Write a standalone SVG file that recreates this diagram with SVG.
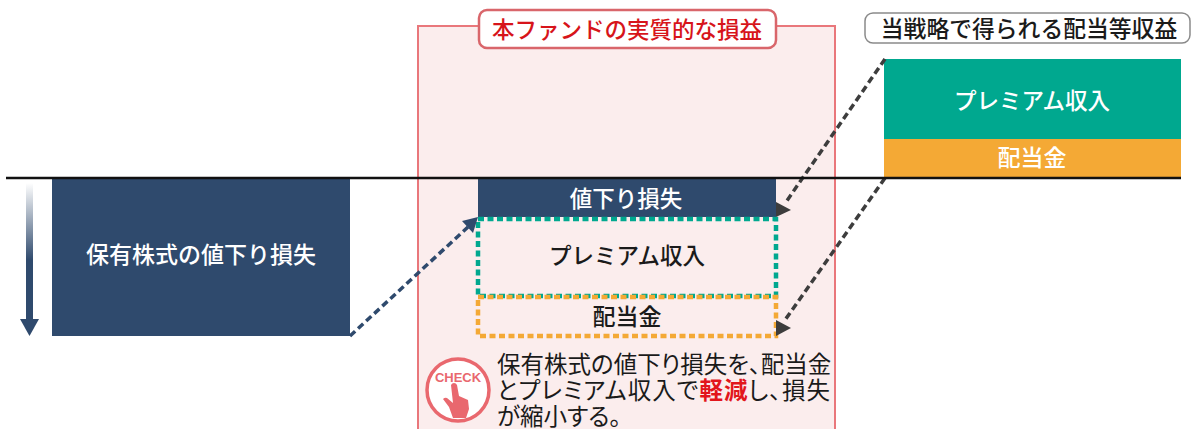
<svg xmlns="http://www.w3.org/2000/svg" width="1191" height="429" viewBox="0 0 1191 429">
<style>
text{font-family:"Noto Sans CJK JP","Noto Sans",sans-serif;text-anchor:middle;font-weight:500}
.w{fill:#fff}.k{fill:#1a1a1a}
.dash{fill:none;stroke-width:4.500;stroke-dasharray:6 3.500}
.conn{fill:none;stroke-width:3.500;stroke-dasharray:7 4}
.body{font-size:23.500px;text-anchor:start;fill:#1a1a1a;font-weight:400;font-feature-settings:"palt"}
.chk{font-family:"Liberation Sans",sans-serif;font-weight:700}
</style>
<defs>
<linearGradient id="fade" x1="0" y1="0" x2="0" y2="1"><stop offset="0" stop-color="#2f4a6d" stop-opacity="0"/><stop offset=".55" stop-color="#2f4a6d"/></linearGradient>
</defs>
<rect width="1191" height="429" fill="#fff"/>
<g id="fund-panel">
<path d="M418 429V26H835V429" fill="#fbeded" stroke="#e9777b" stroke-width="2"/>
<rect x="479" y="10" width="297" height="38" rx="8" fill="#fff" stroke="#d9666b" stroke-width="2.500"/>
<text x="627" y="38" font-size="22.500" fill="#d7141a" font-weight="700">本ファンドの実質的な損益</text>
</g>
<g id="income-title">
<rect x="865" y="13" width="325" height="30" rx="8" fill="#fff" stroke="#8a8a8a" stroke-width="1.500"/>
<text x="1029" y="37" font-size="22.800" class="k">当戦略で得られる配当等収益</text>
</g>
<g id="income-premium">
<rect x="884" y="59" width="297" height="80" fill="#00a88f"/>
<text x="1032" y="109" font-size="22.500" class="w">プレミアム収入</text>
</g>
<g id="income-dividend">
<rect x="884" y="139" width="297" height="39" fill="#f4a935"/>
<text x="1032" y="166" font-size="23" class="w">配当金</text>
</g>
<g id="holding-loss">
<rect x="52" y="179" width="298" height="157" fill="#2f4a6d"/>
<text x="201" y="263" font-size="23" class="w">保有株式の値下り損失</text>
</g>
<g id="down-arrow">
<rect x="26" y="183" width="7" height="140" fill="url(#fade)"/>
<path d="M20 319H39L29.500 336Z" fill="#2f4a6d"/>
</g>
<g id="fund-loss">
<rect x="478" y="179" width="298" height="38" fill="#2f4a6d"/>
<text x="626" y="207" font-size="22.500" class="w">値下り損失</text>
</g>
<g id="fund-premium">
<rect x="478" y="219" width="298" height="77" class="dash" stroke="#00a88f"/>
<text x="627" y="264" font-size="22.500" class="k">プレミアム収入</text>
</g>
<g id="fund-dividend">
<rect x="478" y="297" width="298" height="39" class="dash" stroke="#f4a935"/>
<text x="627" y="325" font-size="23" class="k">配当金</text>
</g>
<g id="connectors">
<path class="conn" d="M885 59L786 202" stroke="#3d3d3d"/>
<path d="M776 202L791 210L776 217Z" fill="#3d3d3d"/>
<path class="conn" d="M885 178L785 320" stroke="#3d3d3d"/>
<path d="M776 320L791 328L776 336Z" fill="#3d3d3d"/>
<path class="conn" d="M350 336L468 227" stroke="#2f4a6d"/>
<path d="M478 217L462 221L473 233Z" fill="#2f4a6d"/>
</g>
<line x1="6" y1="178" x2="1181" y2="178" stroke="#111" stroke-width="2.500"/>
<g id="check-note">
<circle cx="458" cy="390" r="31" fill="#fff" stroke="#e9686e" stroke-width="3.500"/>
<text class="chk" x="458" y="382" font-size="13" fill="#e9686e">CHECK</text>
<path d="M451 385Q452 383 454 383Q456 383 457 385L459 396L468 400L469 409L466 418H453L449 407L443 399Q445 397 447 398L453 403Z" fill="#e9686e"/>
<text class="body" x="497" y="373">保有株式の値下り損失を、配当金</text>
<text class="body" x="497" y="399" letter-spacing="1">とプレミアム収入で<tspan fill="#e2161c" font-weight="700">軽減</tspan>し、損失</text>
<text class="body" x="497" y="425">が縮小する。</text>
</g>
</svg>
